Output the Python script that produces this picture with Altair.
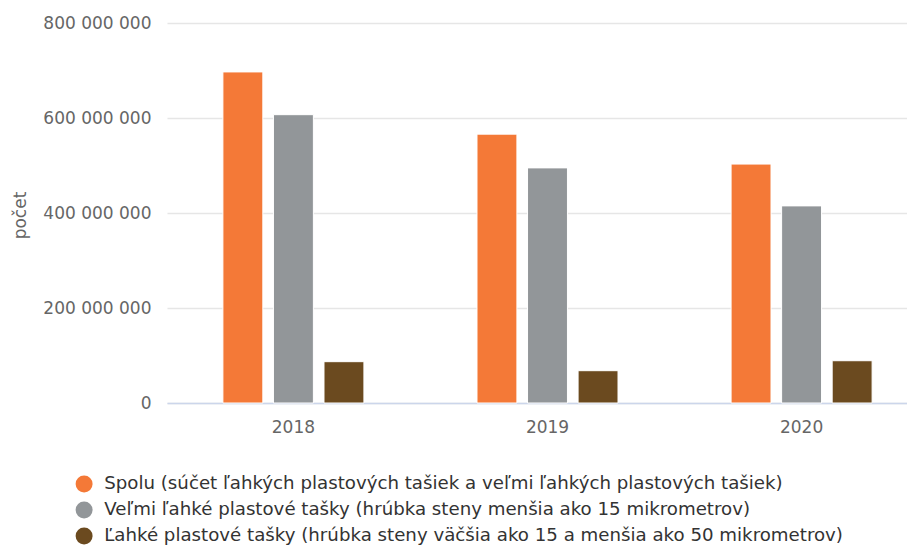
import altair as alt
import pandas as pd

years = ["2018", "2019", "2020"]
series = [
    "Spolu (súčet ľahkých plastových tašiek a veľmi ľahkých plastových tašiek)",
    "Veľmi ľahké plastové tašky (hrúbka steny menšia ako 15 mikrometrov)",
    "Ľahké plastové tašky (hrúbka steny väčšia ako 15 a menšia ako 50 mikrometrov)",
]
spolu = [697_000_000, 566_000_000, 503_000_000]
velmi_lahke = [607_000_000, 495_000_000, 415_000_000]
lahke = [87_000_000, 68_000_000, 89_000_000]
colors = ["#f47937", "#929699", "#6b4a1f"]

rows = []
for s, vals in zip(series, [spolu, velmi_lahke, lahke]):
    for y, v in zip(years, vals):
        rows.append({"rok": y, "seria": s, "pocet": v})
df = pd.DataFrame(rows)

font = "DejaVu Sans"

chart = alt.Chart(df).mark_bar(stroke="white", strokeWidth=1).encode(
    x=alt.X("rok:N", sort=years,
            scale=alt.Scale(paddingInner=0.445, paddingOuter=0.22, range=[0, 761]),
            axis=alt.Axis(title=None, labelAngle=0, labelFontSize=17, labelColor="#666666",
                          labelFont=font, ticks=False, domainColor="#ccd6eb", domainWidth=1.5,
                          labelPadding=16, grid=False)),
    xOffset=alt.XOffset("seria:N", sort=series, scale=alt.Scale(paddingInner=0.21)),
    y=alt.Y("pocet:Q",
            scale=alt.Scale(domain=[0, 800_000_000]),
            axis=alt.Axis(title="počet", values=[0, 200_000_000, 400_000_000, 600_000_000, 800_000_000],
                          labelExpr="replace(format(datum.value, ',d'), /,/g, ' ')",
                          labelFontSize=17, labelColor="#666666", labelFont=font,
                          ticks=False, domain=False, labelPadding=16,
                          gridColor="#e6e6e6", gridWidth=1.5,
                          titleFont=font, titleFontSize=17, titleFontWeight="normal",
                          titleColor="#666666", titleX=-147, titleY=192,
                          titleAlign="center", titleBaseline="middle", titleAngle=-90)),
    color=alt.Color("seria:N", sort=series,
                    scale=alt.Scale(domain=series, range=colors),
                    legend=alt.Legend(title=None, orient="none", legendX=-92, legendY=452,
                                      symbolType="circle", symbolSize=289, symbolStrokeWidth=0,
                                      labelFontSize=18.2, labelFont=font, labelColor="#333333",
                                      labelLimit=900, rowPadding=7, symbolOffset=0,
                                      labelOffset=11)),
).properties(
    width=740,
    height=380,
    autosize=alt.AutoSizeParams(type="none"),
    padding={"left": 159, "top": 15, "right": 0, "bottom": 143},
).configure_view(stroke=None)

chart.save("out.html", embed_options={"renderer": "svg", "actions": False})
